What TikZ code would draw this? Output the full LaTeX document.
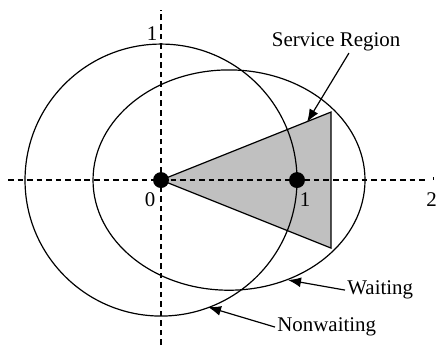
\documentclass[tikz,border=0pt]{standalone}
\usepackage{fontspec}
\setmainfont{Liberation Serif}
\usepackage{xcolor}
\usepackage{tikz}
\usetikzlibrary{positioning,arrows.meta,calc}
\definecolor{regiongray}{RGB}{192,192,192}
\tikzset{
  axis/.style={dash pattern=on 2.8pt off 2pt, line width=0.6pt},
  curve/.style={line width=0.6pt},
  pt/.style={circle, fill=black, inner sep=0pt, minimum size=8pt},
  lbl/.style={font=\fontsize{10.5}{12}\selectfont, inner sep=1pt},
  pointer/.style={-{Latex[length=6.5pt,width=5pt]}, line width=0.6pt}
}

\begin{document}
\begin{tikzpicture}[x=2.4cm, y=2.4cm]
        \useasboundingbox (-1.184,-1.243) rectangle (2.022,1.324);
        % service region
        \filldraw[fill=regiongray, draw=black, curve] (0,0) -- (1.25,0.5) -- (1.25,-0.5) -- cycle;
        % axes
        \draw[axis] (-1.125,0) -- (1.956,0);
        \draw[axis] (0,-1.213) -- (0,1.25);
        \draw[line width=0.5pt] (2,0) -- (2,0.025);
        % curves
        \draw[curve] (0,0) circle [radius=1];
        \draw[curve] (0.5,0) ellipse [x radius=1, y radius=0.81];
        \node[pt] (o) at (0,0) {};
        \node[pt] (p) at (1,0) {};
        \node[lbl] (l0) at (-0.08,-0.147) {0};
        \node[lbl] (l1) at (1.059,-0.147) {1};
        \node[lbl] (l2) at (1.99,-0.147) {2};
        \node[lbl] (ly) at (-0.066,1.08) {1};
        % labels and pointers
        \coordinate (stip) at (1.074,0.426);
        \coordinate (wtip) at (0.934,-0.735);
        \coordinate (ntip) at (0.346,-0.934);
        \node[lbl] (svc) at (1.287,1.015) {Service Region};
        \node[lbl, anchor=west] (wait) at (1.353,-0.809) {Waiting};
        \node[lbl, anchor=west] (nonw) at (0.838,-1.081) {Nonwaiting};
        \draw[pointer] (1.382,0.934) -- (stip);
        \draw[pointer] (wait.west) -- (wtip);
        \draw[pointer] (nonw.west) -- (ntip);
      \end{tikzpicture}
\end{document}
